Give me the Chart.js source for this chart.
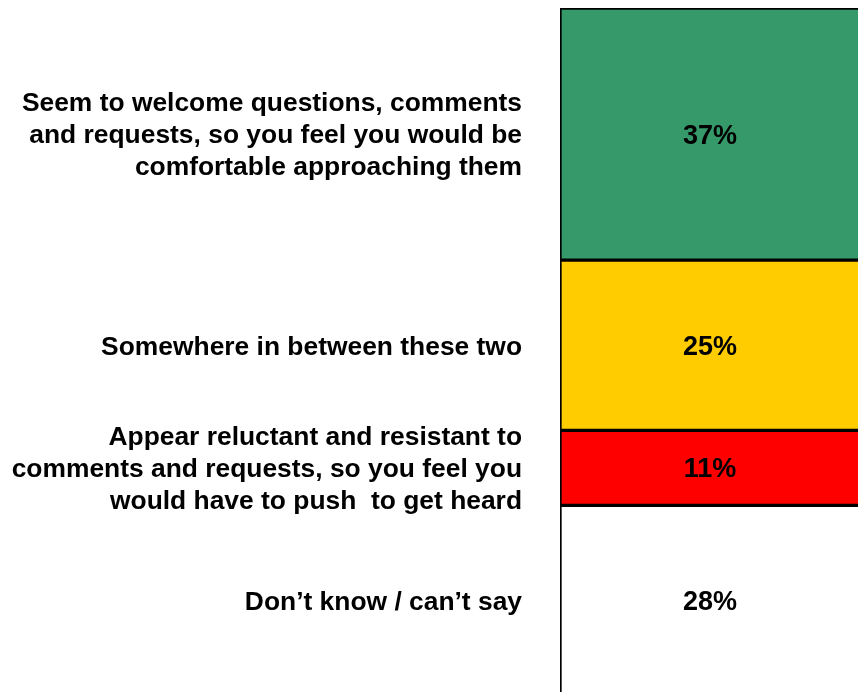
<!DOCTYPE html>
<html lang="en">
<head>
  <meta charset="UTF-8">
  <title>Approachability</title>
  <script src="https://cdn.jsdelivr.net/npm/chart.js"></script>
  <style>
    html, body { margin: 0; padding: 0; background: #fff; overflow: hidden; }
    #wrap { position: absolute; left: 0; top: 0; width: 860px; height: 720px; }
  </style>
</head>
<body>
  <div id="wrap"><canvas id="chart"></canvas></div>
  <script>
    // Answer categories, top to bottom, and share of responses (%)
    const categories = [
      ['Seem to welcome questions, comments', 'and requests, so you feel you would be', 'comfortable approaching them'],
      ['Somewhere in between these two'],
      ['Appear reluctant and resistant to', 'comments and requests, so you feel you', 'would have to push  to get heard'],
      ['Don\u2019t know / can\u2019t say']
    ];
    const values = [37, 25, 11, 28];
    const colors = ['#35996a', '#ffcc00', '#ff0000', '#ffffff'];

    const FONT = '"Liberation Sans", Arial, Helvetica, sans-serif';

    // writes the category text to the left of each segment and the value inside it
    const segmentLabels = {
      id: 'segmentLabels',
      afterDatasetsDraw(chart) {
        const ctx = chart.ctx;
        ctx.save();
        ctx.fillStyle = '#000';
        chart.data.datasets.forEach((ds, i) => {
          const bar = chart.getDatasetMeta(i).data[0];
          const cy = (bar.y + bar.base) / 2 + 2;

          ctx.font = 'bold 27px ' + FONT;
          ctx.textAlign = 'center';
          ctx.textBaseline = 'middle';
          ctx.fillText(ds.data[0] + '%', bar.x, cy);

          const lines = categories[i];
          const lh = 32;
          ctx.font = 'bold 26.4px ' + FONT;
          ctx.textAlign = 'right';
          lines.forEach((line, j) => {
            ctx.fillText(line, 522, cy + (j - (lines.length - 1) / 2) * lh);
          });
        });
        ctx.restore();
      }
    };

    new Chart(document.getElementById('chart'), {
      type: 'bar',
      data: {
        labels: [''],
        datasets: values.map((v, i) => ({
          label: categories[i].join(' '),
          data: [v],
          backgroundColor: colors[i],
          borderColor: '#000',
          borderWidth: 2,
          borderSkipped: false,
          barPercentage: 1,
          categoryPercentage: 1
        }))
      },
      options: {
        responsive: true,
        maintainAspectRatio: false,
        animation: false,
        layout: { padding: { left: 560, top: 8, right: 0, bottom: 0 } },
        plugins: { legend: { display: false }, tooltip: { enabled: false } },
        scales: {
          x: { stacked: true, display: false },
          y: { stacked: true, display: false, reverse: true, min: 0, max: 104.5 }
        }
      },
      plugins: [segmentLabels]
    });
  </script>
</body>
</html>
